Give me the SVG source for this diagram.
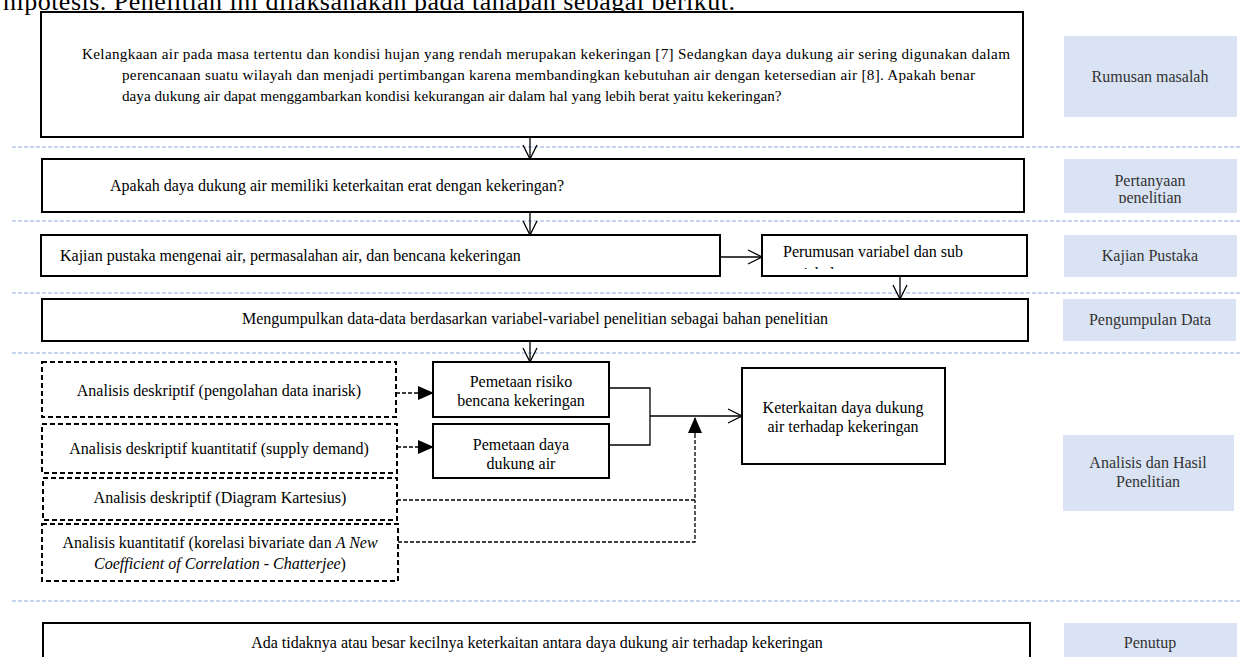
<svg xmlns="http://www.w3.org/2000/svg" width="1242" height="657" viewBox="0 0 1242 657">
<style>
text{font-family:"Liberation Serif","Times New Roman",serif;font-size:16px;fill:#000}
.box{fill:#fff;stroke:#000;stroke-width:2}
.dbox{fill:#fff;stroke:#000;stroke-width:2;stroke-dasharray:5,3}
.lbl{fill:#dae3f3;stroke:none}
.lt{fill:#333;text-anchor:middle}
.sep{stroke:#b4c7e7;stroke-width:1.3;stroke-dasharray:4,2;fill:none}
.con{stroke:#000;stroke-width:1.3;fill:none}
.dcon{stroke:#000;stroke-width:1.3;fill:none;stroke-dasharray:4,2}
.mid{text-anchor:middle}
.small{font-size:15.2px}
.head{font-size:26px}
</style>
<defs>
<marker id="open" viewBox="0 0 16 16" refX="15" refY="8" markerWidth="16" markerHeight="16" markerUnits="userSpaceOnUse" orient="auto">
<path d="M1,1 L15,8 L1,15" fill="none" stroke="#000" stroke-width="1.3"/>
</marker>
<marker id="fill" viewBox="0 0 16 16" refX="15" refY="8" markerWidth="16" markerHeight="16" markerUnits="userSpaceOnUse" orient="auto">
<path d="M0,1 L16,8 L0,15 z" fill="#000"/>
</marker>
<clipPath id="cPert"><rect x="1064" y="159" width="173" height="44"/></clipPath>
<clipPath id="cPerum"><rect x="763" y="237" width="263" height="32"/></clipPath>
<clipPath id="cP2"><rect x="434" y="425" width="174" height="45"/></clipPath>
</defs>

<text class="head" x="3" y="10" textLength="732" lengthAdjust="spacing">hipotesis. Penelitian ini dilaksanakan pada tahapan sebagai berikut.</text>

<g id="separators">
<line class="sep" x1="12" y1="147" x2="1242" y2="147"/>
<line class="sep" x1="12" y1="221" x2="1242" y2="221"/>
<line class="sep" x1="12" y1="293" x2="1242" y2="293"/>
<line class="sep" x1="12" y1="353" x2="1242" y2="353"/>
<line class="sep" x1="12" y1="601" x2="1242" y2="601"/>
</g>

<g id="rumusan">
<rect class="box" x="41" y="12" width="982" height="125"/>
<text class="small" x="82" y="59" textLength="928" lengthAdjust="spacing">Kelangkaan air pada masa tertentu dan kondisi hujan yang rendah merupakan kekeringan [7] Sedangkan daya dukung air sering digunakan dalam</text>
<text class="small" x="122" y="80" textLength="853" lengthAdjust="spacing">perencanaan suatu wilayah dan menjadi pertimbangan karena membandingkan kebutuhan air dengan ketersedian air [8]. Apakah benar</text>
<text class="small" x="122" y="101">daya dukung air dapat menggambarkan kondisi kekurangan air dalam hal yang lebih berat yaitu kekeringan?</text>
</g>

<g id="pertanyaan">
<rect class="box" x="42" y="159" width="982" height="53"/>
<text x="110" y="191">Apakah daya dukung air memiliki keterkaitan erat dengan kekeringan?</text>
</g>

<g id="kajian">
<rect class="box" x="41" y="235" width="679" height="41"/>
<text x="60" y="261">Kajian pustaka mengenai air, permasalahan air, dan bencana kekeringan</text>
</g>

<g id="perumusan">
<rect class="box" x="762" y="235" width="265" height="41"/>
<g clip-path="url(#cPerum)">
<text x="783" y="257">Perumusan variabel dan sub</text>
<text x="783" y="279">variabel</text>
</g>
</g>

<g id="pengumpulan">
<rect class="box" x="42" y="299" width="986" height="42"/>
<text class="mid" x="535" y="324">Mengumpulkan data-data berdasarkan variabel-variabel penelitian sebagai bahan penelitian</text>
</g>

<g id="a1">
<rect class="dbox" x="42" y="362" width="354" height="55"/>
<text class="mid" x="219" y="396">Analisis deskriptif (pengolahan data inarisk)</text>
</g>
<g id="a2">
<rect class="dbox" x="42" y="424" width="355" height="49"/>
<text class="mid" x="219" y="454">Analisis deskriptif kuantitatif (supply demand)</text>
</g>
<g id="a3">
<rect class="dbox" x="43" y="478" width="354" height="42"/>
<text class="mid" x="220" y="503">Analisis deskriptif (Diagram Kartesius)</text>
</g>
<g id="a4">
<rect class="dbox" x="42" y="524" width="356" height="57"/>
<text class="mid" x="220" y="548">Analisis kuantitatif (korelasi bivariate dan <tspan font-style="italic">A New</tspan></text>
<text class="mid" x="220" y="569" font-style="italic">Coefficient of Correlation - Chatterjee<tspan font-style="normal">)</tspan></text>
</g>

<g id="p1">
<rect class="box" x="433" y="362" width="176" height="55"/>
<text class="mid" x="521" y="387">Pemetaan risiko</text>
<text class="mid" x="521" y="406">bencana kekeringan</text>
</g>
<g id="p2">
<rect class="box" x="433" y="424" width="176" height="54"/>
<g clip-path="url(#cP2)">
<text class="mid" x="521" y="450">Pemetaan daya</text>
<text class="mid" x="521" y="469">dukung air</text>
</g>
</g>

<g id="keterkaitan">
<rect class="box" x="742" y="368" width="203" height="96"/>
<text class="mid" x="843" y="413">Keterkaitan daya dukung</text>
<text class="mid" x="843" y="432">air terhadap kekeringan</text>
</g>

<g id="penutup">
<rect class="box" x="43" y="623" width="987" height="40"/>
<text class="mid" x="537" y="648">Ada tidaknya atau besar kecilnya keterkaitan antara daya dukung air terhadap kekeringan</text>
</g>

<g id="labels">
<g id="lbl-rumusan"><rect class="lbl" x="1064" y="36" width="173" height="81"/><text class="lt" x="1150" y="82">Rumusan masalah</text></g>
<g id="lbl-pertanyaan"><rect class="lbl" x="1064" y="159" width="173" height="54"/><g clip-path="url(#cPert)"><text class="lt" x="1150" y="186">Pertanyaan</text><text class="lt" x="1150" y="203">penelitian</text></g></g>
<g id="lbl-kajian"><rect class="lbl" x="1064" y="235" width="173" height="42"/><text class="lt" x="1150" y="261">Kajian Pustaka</text></g>
<g id="lbl-pengumpulan"><rect class="lbl" x="1063" y="299" width="173" height="42"/><text class="lt" x="1150" y="325">Pengumpulan Data</text></g>
<g id="lbl-analisis"><rect class="lbl" x="1063" y="435" width="171" height="76"/><text class="lt" x="1148" y="468">Analisis dan Hasil</text><text class="lt" x="1148" y="487">Penelitian</text></g>
<g id="lbl-penutup"><rect class="lbl" x="1064" y="623" width="173" height="40"/><text class="lt" x="1150" y="648">Penutup</text></g>
</g>

<g id="connectors">
<line class="con" x1="530" y1="137" x2="530" y2="159" marker-end="url(#open)"/>
<line class="con" x1="530" y1="212" x2="530" y2="235" marker-end="url(#open)"/>
<line class="con" x1="720" y1="257" x2="762" y2="257" marker-end="url(#open)"/>
<line class="con" x1="900" y1="276" x2="900" y2="299" marker-end="url(#open)"/>
<line class="con" x1="530" y1="341" x2="530" y2="362" marker-end="url(#open)"/>
<polyline class="con" points="609,388 650,388 650,445 609,445"/>
<line class="con" x1="650" y1="416" x2="742" y2="416" marker-end="url(#open)"/>
<line class="dcon" x1="396" y1="393" x2="433" y2="393" marker-end="url(#fill)"/>
<line class="dcon" x1="397" y1="447" x2="433" y2="447" marker-end="url(#fill)"/>
<polyline class="dcon" points="397,500 695,500 695,436"/>
<polyline class="dcon" points="398,542 695,542 695,500"/>
<line class="con" x1="695" y1="436" x2="695" y2="418" marker-end="url(#fill)"/>
</g>
</svg>
